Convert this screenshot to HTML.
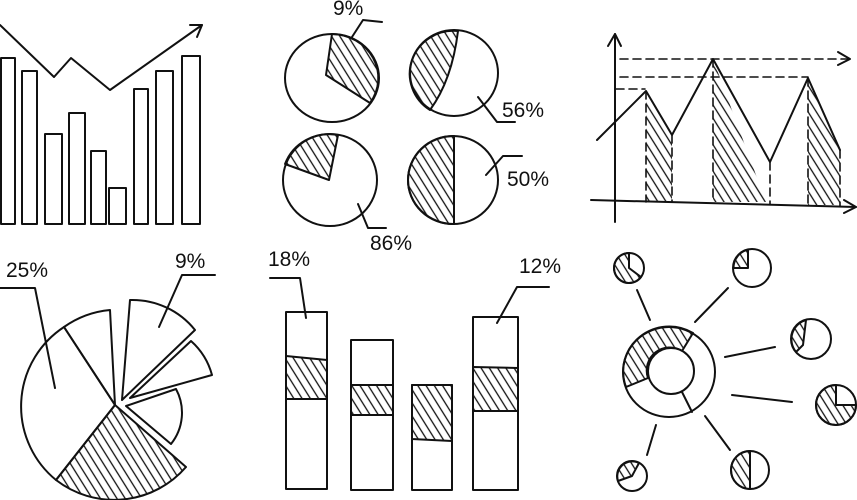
<!DOCTYPE html>
<html><head><meta charset="utf-8"><style>
html,body{margin:0;padding:0;background:#fff;}
svg{display:block;}
text{font-family:"Liberation Sans",sans-serif;font-size:21px;fill:#111;}
</style></head><body>
<svg width="857" height="500" viewBox="0 0 857 500" xmlns="http://www.w3.org/2000/svg">
<defs>
<pattern id="h" width="7" height="7" patternUnits="userSpaceOnUse" patternTransform="rotate(-32)">
<line x1="3" y1="0" x2="3" y2="7" stroke="#111" stroke-width="1.3"/>
</pattern>
</defs>
<g fill="none" stroke="#111" stroke-width="2" stroke-linejoin="round" stroke-linecap="round">
<!-- top-left bars -->
<rect x="1" y="58" width="14" height="166"/>
<rect x="22" y="71" width="15" height="153"/>
<rect x="45" y="134" width="17" height="90"/>
<rect x="69" y="113" width="16" height="111"/>
<rect x="91" y="151" width="15" height="73"/>
<rect x="109" y="188" width="17" height="36"/>
<rect x="134" y="89" width="14" height="135"/>
<rect x="156" y="71" width="17" height="153"/>
<rect x="182" y="56" width="18" height="168"/>
<polyline points="0,25 54,77 71,58 110,90 202,25"/>
<polyline points="190,25 202,25 197,37"/>

<!-- pie 9% -->
<ellipse cx="332" cy="78" rx="47" ry="44"/>
<path d="M326,75 L332,34 A47,44 0 0 1 370,103 Z" fill="url(#h)"/>
<polyline points="352,37 363,20 382,22"/>
<!-- pie 86% -->
<ellipse cx="330" cy="180" rx="47" ry="46"/>
<path d="M329,180 L285,164 A47,46 0 0 1 338,135 Z" fill="url(#h)"/>
<polyline points="358,204 368,228 386,228"/>
<!-- pie 56% -->
<ellipse cx="454" cy="73" rx="44" ry="43"/>
<path d="M458,31 Q452,80 430,110 A44,43 0 0 1 458,31 Z" fill="url(#h)"/>
<polyline points="478,97 497,122 515,122"/>
<!-- pie 50% -->
<ellipse cx="453" cy="180" rx="45" ry="44"/>
<path d="M454,136 L454,224 A46,44 0 0 1 454,136 Z" fill="url(#h)"/>
<polyline points="486,175 503,156 522,156"/>

<!-- line chart -->
<line x1="615" y1="222" x2="615" y2="34"/>
<polyline points="608,46 615,34 621,46"/>
<line x1="591" y1="200" x2="856" y2="207"/>
<polyline points="844,200 856,207 844,213"/>
<path d="M646,91 L672,135 L672,202 L646,202 Z" fill="url(#h)" stroke="none"/>
<path d="M713,59 L766,202 L713,202 Z" fill="url(#h)" stroke="none"/>
<path d="M808,78 L840,150 L840,205 L808,205 Z" fill="url(#h)" stroke="none"/>
<g stroke-dasharray="8,5" stroke-width="1.6">
<line x1="620" y1="59" x2="850" y2="59"/>
<line x1="620" y1="77" x2="808" y2="77"/>
<line x1="616" y1="89" x2="645" y2="89"/>
<line x1="646" y1="91" x2="646" y2="202"/>
<line x1="672" y1="135" x2="672" y2="202"/>
<line x1="713" y1="59" x2="713" y2="202"/>
<line x1="770" y1="162" x2="770" y2="204"/>
<line x1="808" y1="78" x2="808" y2="205"/>
<line x1="840" y1="150" x2="840" y2="206"/>
</g>
<polyline points="838,52 850,59 838,65"/>
<polyline points="597,140 646,91 672,135 713,59 770,162 808,78 840,150"/>

<!-- exploded pie -->
<path d="M115,405 L56,480 A95,95 0 0 0 186,467 Z" fill="url(#h)"/>
<path d="M115,405 L64,327 A95,95 0 0 0 56,480 Z"/>
<path d="M115,405 L64,327 A95,95 0 0 1 110,310 Z"/>
<path d="M122,400 L130,300 A80,80 0 0 1 195,330 Z"/>
<path d="M130,398 L191,341 A70,70 0 0 1 212,375 Z"/>
<path d="M126,406 L176,389 A50,50 0 0 1 171,444 Z"/>
<polyline points="55,388 35,288 0,288"/>
<polyline points="159,327 182,275 215,275"/>

<!-- stacked bars -->
<rect x="286" y="312" width="41" height="177"/>
<path d="M286,356 L327,360 L327,399 L286,399 Z" fill="url(#h)"/>
<rect x="351" y="340" width="42" height="150"/>
<path d="M351,385 L393,385 L393,415 L351,415 Z" fill="url(#h)"/>
<rect x="412" y="385" width="40" height="105"/>
<path d="M412,385 L452,385 L452,441 L412,439 Z" fill="url(#h)"/>
<rect x="473" y="317" width="45" height="173"/>
<path d="M473,367 L518,368 L518,411 L473,411 Z" fill="url(#h)"/>
<polyline points="306,318 300,278 270,278"/>
<polyline points="497,323 517,287 549,287"/>

<!-- network -->
<ellipse cx="669" cy="372" rx="46" ry="45"/>
<path d="M693,333 A46,45 0 0 0 626,387 L648,378 A23,23 0 0 1 682,351 Z" fill="url(#h)"/>
<circle cx="671" cy="371" r="23" fill="#fff"/>
<line x1="682" y1="392" x2="692" y2="412"/>

<circle cx="629" cy="268" r="15"/>
<path d="M629,268 L641,277 A15,15 0 1 1 629,253 Z" fill="url(#h)"/>
<circle cx="752" cy="268" r="19"/>
<path d="M748,268 L733.5,268 A19,19 0 0 1 748,249.5 Z" fill="url(#h)"/>
<circle cx="811" cy="339" r="20"/>
<path d="M806,320 L803,345 L796,352 A20,20 0 0 1 806,320 Z" fill="url(#h)"/>
<circle cx="836" cy="405" r="20"/>
<path d="M836,405 L836,385 A20,20 0 1 0 856,405 Z" fill="url(#h)"/>
<circle cx="632" cy="476" r="15"/>
<path d="M632,476 L639,463 A15,15 0 0 0 618,481 Z" fill="url(#h)"/>
<circle cx="750" cy="470" r="19"/>
<path d="M750,451 L750,489 A19,19 0 0 1 750,451 Z" fill="url(#h)"/>
<line x1="637" y1="290" x2="650" y2="320"/>
<line x1="728" y1="288" x2="695" y2="322"/>
<line x1="725" y1="357" x2="775" y2="347"/>
<line x1="732" y1="395" x2="792" y2="402"/>
<line x1="656" y1="425" x2="647" y2="455"/>
<line x1="705" y1="416" x2="730" y2="450"/>
</g>
<text x="333" y="15">9%</text>
<text x="370" y="250">86%</text>
<text x="502" y="117">56%</text>
<text x="507" y="186">50%</text>
<text x="6" y="277">25%</text>
<text x="175" y="268">9%</text>
<text x="268" y="266">18%</text>
<text x="519" y="273">12%</text>
</svg>
</body></html>
